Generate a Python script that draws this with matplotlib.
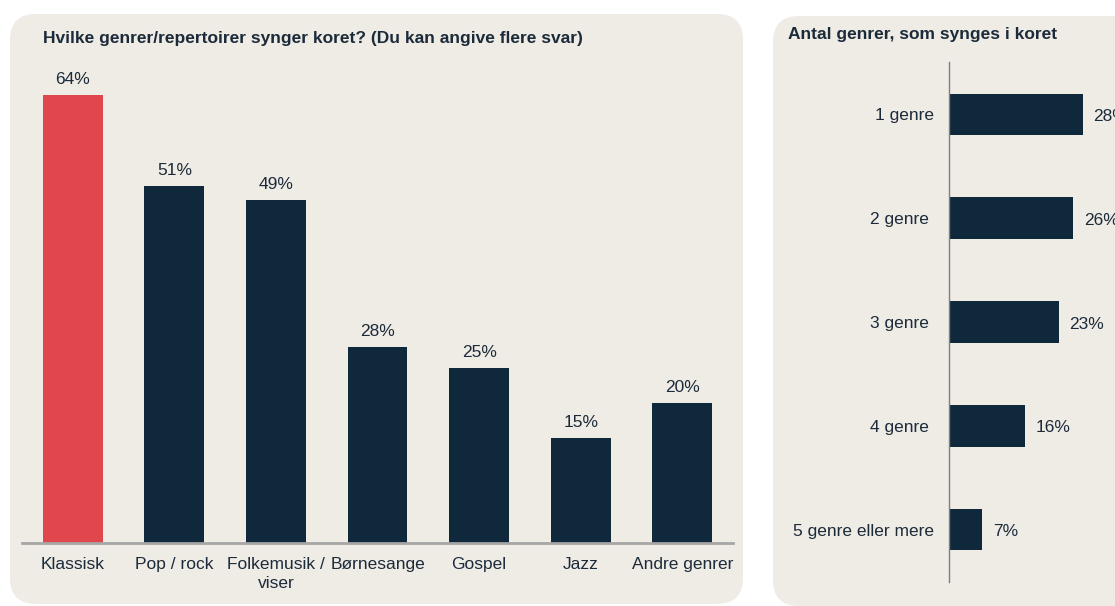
import matplotlib
matplotlib.use("Agg")
from matplotlib import pyplot as plt
from matplotlib.patches import FancyBboxPatch

plt.rcParams['font.family'] = ['Liberation Sans', 'DejaVu Sans']

# data
genres = ["Klassisk", "Pop / rock", "Folkemusik /\nviser", "Børnesange", "Gospel", "Jazz", "Andre genrer"]
genre_pct = [64, 51, 49, 28, 25, 15, 20]
counts = ["1 genre", "2 genre ", "3 genre ", "4 genre ", "5 genre eller mere"]
count_pct = [28, 26, 23, 16, 7]

NAVY = "#10283c"
RED = "#e0474c"
PANEL = "#efebe5"
TXT = "#1c2b3a"

W, H = 1115, 606
fig = plt.figure(figsize=(W / 100, H / 100), dpi=100)
fig.patch.set_facecolor("white")

# background panels, drawn in pixel coords
bg = fig.add_axes([0, 0, 1, 1], zorder=0)
bg.set_xlim(0, W)
bg.set_ylim(H, 0)
bg.axis("off")
bg.add_patch(FancyBboxPatch((10, 14), 733, 590, boxstyle="round,pad=0,rounding_size=26",
                            fc=PANEL, ec="none"))
bg.add_patch(FancyBboxPatch((773, 16), 400, 590, boxstyle="round,pad=0,rounding_size=26",
                            fc=PANEL, ec="none"))
bg.text(43, 38, "Hvilke genrer/repertoirer synger koret? (Du kan angive flere svar)",
        fontsize=12.5, fontweight="bold", color=TXT, va="center", ha="left")
bg.text(788, 34, "Antal genrer, som synges i koret",
        fontsize=12.5, fontweight="bold", color=TXT, va="center", ha="left")


def px_axes(x0, x1, ytop, ybot):
    return fig.add_axes([x0 / W, (H - ybot) / H, (x1 - x0) / W, (ybot - ytop) / H], zorder=1)


# left chart: vertical bars
ax = px_axes(22, 733, 70, 543)
ax.set_facecolor("none")
colors = [RED] + [NAVY] * (len(genres) - 1)
bars = ax.bar(range(len(genres)), genre_pct, width=0.59, color=colors)
ax.set_xlim(-0.5, len(genres) - 0.5)
ax.set_ylim(0, (543 - 70) / 7.0)
for b, v in zip(bars, genre_pct):
    ax.annotate(f"{v}%", (b.get_x() + b.get_width() / 2, v), xytext=(0, 6),
                textcoords="offset points", ha="center", va="bottom",
                fontsize=12.5, color=TXT)
ax.set_xticks(range(len(genres)))
ax.set_xticklabels(genres, fontsize=12.5, color=TXT, linespacing=1.35)
ax.tick_params(axis="x", length=0, pad=10)
ax.set_yticks([])
for s in ["top", "right", "left"]:
    ax.spines[s].set_visible(False)
ax.spines["bottom"].set_color("#a6a6a6")
ax.spines["bottom"].set_linewidth(2)

# right chart: horizontal bars
ax2 = px_axes(949, 949 + 35 * 4.78, 62.5, 581.5)
ax2.set_facecolor("none")
hb = ax2.barh(range(len(counts)), count_pct, height=0.4, color=NAVY)
ax2.set_ylim(len(counts) - 0.5, -0.5)
ax2.set_xlim(0, 35)
for b, v in zip(hb, count_pct):
    ax2.annotate(f"{v}%", (v, b.get_y() + b.get_height() / 2), xytext=(7.5, -1.5),
                 textcoords="offset points", ha="left", va="center",
                 fontsize=12.5, color=TXT)
ax2.set_yticks(range(len(counts)))
ax2.set_yticklabels(counts, fontsize=12.5, color=TXT)
ax2.tick_params(axis="y", length=0, pad=11)
ax2.set_xticks([])
for s in ["top", "right", "bottom"]:
    ax2.spines[s].set_visible(False)
ax2.spines["left"].set_color("#7f7f7f")
ax2.spines["left"].set_linewidth(1)

fig.savefig("out.png", dpi=100, facecolor="white")
